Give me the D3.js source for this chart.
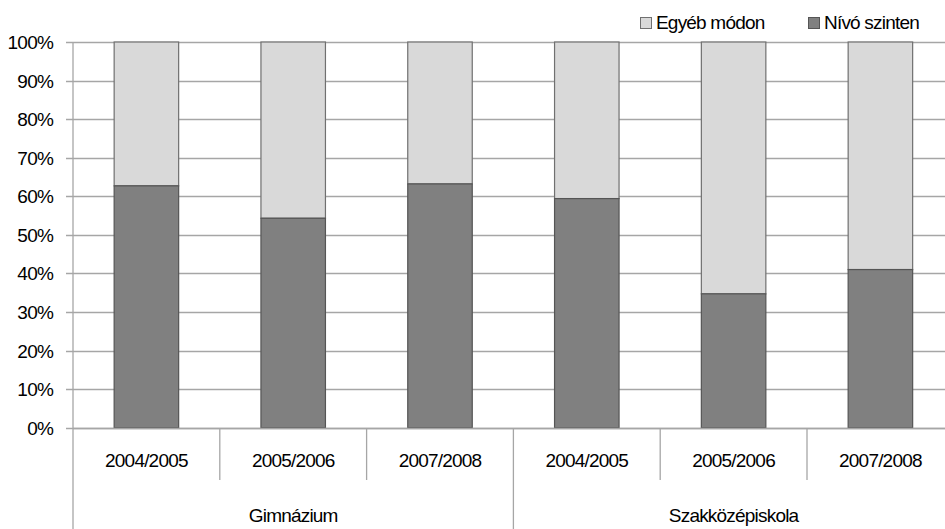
<!DOCTYPE html>
<html><head><meta charset="utf-8">
<script src="https://cdn.jsdelivr.net/npm/d3@7"></script>
<style>body{margin:0;background:#fff;overflow:hidden}text{font-family:"Liberation Sans",Arial,sans-serif;fill:#000;font-size:19px;letter-spacing:-0.8px}</style>
</head><body><svg id="c" width="945" height="529"></svg>
<script>
const groups = ["Gimnázium","Szakközépiskola"];
const years = ["2004/2005","2005/2006","2007/2008","2004/2005","2005/2006","2007/2008"];
const groupOf = [0,0,0,1,1,1];
const nivo = [62.7,54.3,63.2,59.4,34.7,41.0];
const egyeb = nivo.map(v=>100-v);
const seriesNames = ["Egyéb módon","Nívó szinten"];
const yTicks = [0,10,20,30,40,50,60,70,80,90,100];

const svg = d3.select("#c");
const x0 = 73, catW = 146.8;
const x = d3.scaleBand().domain(d3.range(6)).range([x0, x0+catW*6]).paddingInner(0).paddingOuter(0);
const y = d3.scaleLinear().domain([0,100]).range([427.7,42]);
const barW = 64.5;
const gridC = "#a6a6a6";

// gridlines
svg.append("g").selectAll("line").data(yTicks).join("line")
  .attr("x1",x0-7).attr("x2",945).attr("y1",d=>Math.round(y(d))+0.5).attr("y2",d=>Math.round(y(d))+0.5)
  .attr("stroke",gridC).attr("stroke-width",1.3);
// y labels
svg.append("g").selectAll("text").data(yTicks).join("text")
  .attr("x",53).attr("y",d=>y(d)+7).attr("text-anchor","end").text(d=>d+"%");

// bars
const bars = svg.append("g");
nivo.forEach((v,i)=>{
  const cx = x(i)+x.bandwidth()/2;
  bars.append("rect").attr("x",cx-barW/2).attr("width",barW).attr("y",y(100)).attr("height",y(v)-y(100))
    .attr("fill","#d9d9d9").attr("stroke","#707070").attr("stroke-width",1.2);
  bars.append("rect").attr("x",cx-barW/2).attr("width",barW).attr("y",y(v)).attr("height",y(0)-y(v))
    .attr("fill","#808080").attr("stroke","#555555").attr("stroke-width",1.2);
});

// axes lines
svg.append("line").attr("x1",x0).attr("x2",x0).attr("y1",42).attr("y2",529).attr("stroke",gridC).attr("stroke-width",1.3);
svg.append("line").attr("x1",x0).attr("x2",945).attr("y1",428.5).attr("y2",428.5).attr("stroke",gridC).attr("stroke-width",1.3);
// category separators
d3.range(1,6).forEach(i=>{
  const xx = x(i);
  const big = groupOf[i]!==groupOf[i-1];
  svg.append("line").attr("x1",xx).attr("x2",xx).attr("y1",428).attr("y2",big?529:480).attr("stroke",gridC).attr("stroke-width",1.3);
});
// year labels
svg.append("g").selectAll("text").data(years).join("text")
  .attr("x",(d,i)=>x(i)+x.bandwidth()/2).attr("y",467).attr("text-anchor","middle").text(d=>d);
// group labels
groups.forEach((g,gi)=>{
  const idx = d3.range(6).filter(i=>groupOf[i]===gi);
  const cx = (x(idx[0]) + x(idx[idx.length-1])+x.bandwidth())/2;
  svg.append("text").attr("x",cx).attr("y",522).attr("text-anchor","middle").text(g);
});

// legend
const leg = [{n:seriesNames[0],c:"#d9d9d9",s:"#707070",x:640},{n:seriesNames[1],c:"#808080",s:"#555555",x:808}];
leg.forEach(l=>{
  svg.append("rect").attr("x",l.x+0.5).attr("y",17.5).attr("width",11).attr("height",11).attr("fill",l.c).attr("stroke",l.s);
  svg.append("text").attr("x",l.x+16).attr("y",29).text(l.n);
});
</script></body></html>
